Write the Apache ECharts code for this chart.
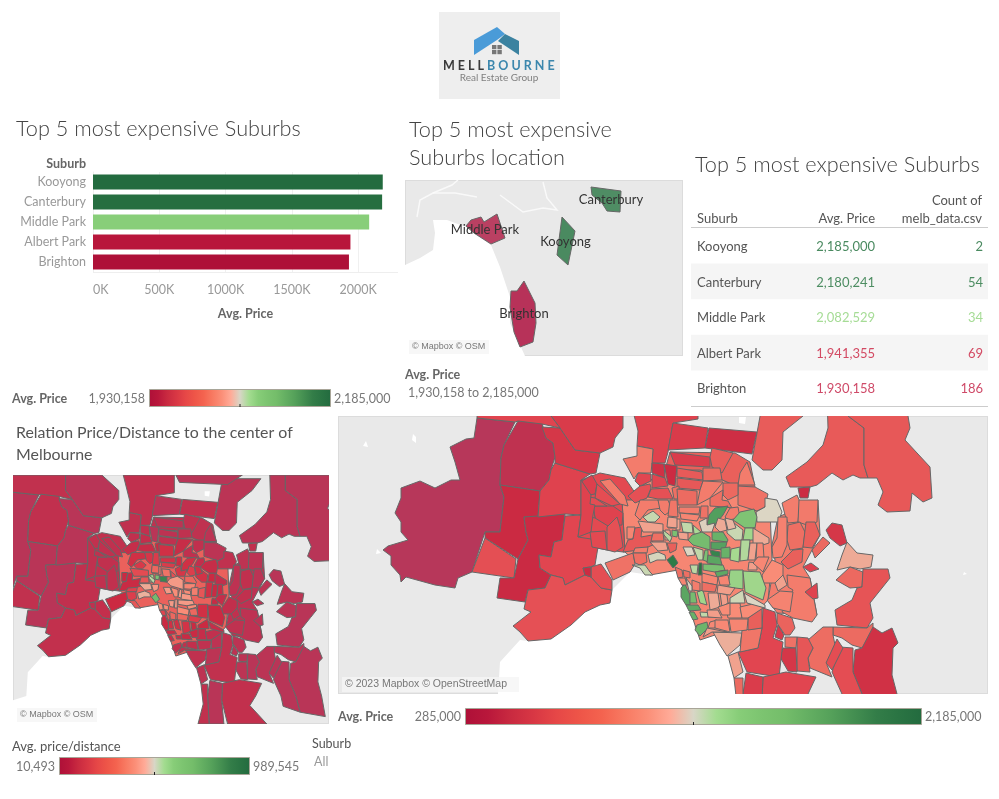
<!DOCTYPE html>
<html>

<head>
  <meta charset="utf-8">
  <title>Melbourne suburbs</title>
  <script src="https://cdn.jsdelivr.net/npm/echarts@6/dist/echarts.min.js"></script>
  <style>
    html, body { margin: 0; padding: 0; background: #fff; }
    .panel { position: absolute; }
    .map { background: #e9e9e9; outline: 1px solid #dcdcdc; outline-offset: -1px; }
  </style>
</head>

<body>
  <div id="page" class="panel" style="left:0;top:0;width:999px;height:799px"></div>
  <div id="mapTop" class="panel map" style="left:405px;top:180px;width:278px;height:176px"></div>
  <div id="mapLeft" class="panel map" style="left:13px;top:475px;width:316px;height:249px"></div>
  <div id="mapBig" class="panel map" style="left:338px;top:416px;width:650px;height:278px"></div>
  <script>
    const topSuburbs = ['Kooyong', 'Canterbury', 'Middle Park', 'Albert Park', 'Brighton'];
    const topPrices = [2185000, 2180241, 2082529, 1941355, 1930158];
    const topCounts = [2, 54, 34, 69, 186];
    const priceTicks = [0, 500000, 1000000, 1500000, 2000000];

    const pricePalette = ['#ae1038', '#b9173b', '#c92a40', '#d83744', '#e64747', '#ee5548', '#f4634f', '#f87a62', '#fb8f78', '#ffab98', '#d8d6c6',
      '#a3dc90', '#87cd78', '#7cc470', '#74bd6a', '#64af62', '#55a15a', '#448f51', '#337d48', '#2a7443', '#236b3f'];
    const mapPalette = ['#b5385c', '#cb2a42', '#e24650', '#ec6a60', '#f98d78', '#dcd6c4', '#a5d98f', '#7cc172', '#5aa562', '#3a8a50', '#25703f'];
    const tablePalette = ['#cf4a68', '#d94a5c', '#e0605f', '#e87a70', '#eea090', '#dddccc', '#a5dc95', '#88c285', '#74b078', '#5c9c6a', '#4a8a60'];

    // outlines of the top 5 map (map units), label points and the shown value
    const topMapNames = ['Canterbury', 'Kooyong', 'Middle Park', 'Brighton'];
    const topMapValues = [2180241, 2185000, 1941355, 1930158];
    const topMapOutlines = [
      '591,187 621,191 620,212 607,211 602,203 592,195',
      '562,217 575,231 568,265 557,255',
      '466,226 471,220 481,217 484,222 497,214 505,238 491,244 474,233',
      '511,291 517,291 524,281 535,303 536,323 533,342 520,347 514,332 510,307'
    ];
    const topMapLabelPoints = [[611, 200], [565.5, 242], [485, 230], [524, 314]];
    const topBayOutlines = ['433,220 447,220 466,227 473,233 491,245 500,267 510,297 510,323 525,356 405,356 405,265 420,258 433,250 435,233'];
    const topRivers = [
      '417,217 420,200 433,193 455,193 477,197',
      '500,195 523,212 543,208 557,210 547,198 543,182',
      '433,193 452,185 458,180'
    ];

    // suburb outlines (map units) - same order as avgPrice and pricePerDistance
    const suburbOutlines = [
      '622,500 665,470 700,470 745,490 770,510 772,560 768,600 745,625 700,640 690,610 678,570 650,575 625,552',
      '581,480 600,473 625,478 640,500 622,500 625,552 623,552 607,550 592,547 578,537',
      '778,517 818,500 820,535 803,567 810,578 817,615 777,613 768,600 775,560 772,545',
      '670,452 735,453 750,462 755,487 745,490 700,470 665,470',
      '477,418 515,422 504,445 501,458 500,485 504,497 500,532 485,532 472,572 458,578 455,588 435,585 406,577 401,582 400,575 391,565 391,556 383,550 388,546 408,540 401,532 401,522 395,513 401,498 401,488 420,481 435,488 451,480 460,480 455,462 450,447 466,439 474,438',
      '518,421 542,423 546,438 553,443 555,457 551,470 549,480 540,491 500,485 501,458 504,445',
      '500,485 540,491 538,517 524,517 526,532 528,540 518,559 485,538 485,532 500,532 504,497',
      '485,538 516,559 514,578 472,572',
      '524,517 565,514 562,540 554,542 551,557 539,555 540,568 551,575 545,588 528,590 525,602 497,598 500,578 514,578 518,559 528,540 526,532',
      '555,463 590,474 581,480 581,515 565,514 538,517 540,491 549,480 551,470',
      '542,427 560,428 575,450 600,453 596,473 590,474 555,463 555,457 553,443 546,438',
      '551,395 600,395 623,416 623,428 615,438 613,447 600,453 575,450 560,428 551,416',
      '478,395 551,395 551,416 560,428 542,424 518,421 515,422 477,418',
      '565,516 581,515 578,537 591,539 598,547 595,565 590,567 583,568 585,575 565,585 563,578 551,575 540,568 539,555 551,557 554,542 562,540',
      '551,575 563,578 565,585 585,575 591,577 601,588 612,590 610,603 600,605 585,612 571,625 551,639 528,641 520,632 513,626 531,612 524,609 528,590 545,588',
      '591,577 591,567 601,564 612,580 612,590 601,588',
      '583,568 591,567 591,577 585,575',
      '605,563 633,553 635,564 630,572 613,580',
      '629,395 698,395 698,419 673,423 668,452 665,463 652,463 653,449 637,446 638,431',
      '673,423 708,428 705,448 668,450',
      '709,428 757,432 752,454 705,448',
      '763,400 815,400 803,416 783,432 782,460 772,470 763,470 752,460 757,433',
      '827,395 848,395 848,416 864,428 864,465 868,478 860,478 853,475 843,480 832,473 817,485 810,487 790,487 786,477 807,462 823,445 828,428',
      '848,395 908,395 908,416 910,428 905,440 930,467 932,498 923,502 912,493 910,511 887,512 878,505 883,492 877,478 868,478 864,465 864,428 848,416',
      '798,488 810,487 808,498 800,498',
      '670,452 710,457 710,467 675,465',
      '712,448 733,453 722,473 712,467 710,457',
      '677,468 702,472 703,480 677,477',
      '703,468 720,468 722,480 703,481',
      '677,478 703,481 700,490 677,488',
      '703,481 723,482 710,498 697,505 700,490',
      '747,462 755,485 738,485 740,473',
      '738,486 755,487 768,494 765,507 757,511 738,505',
      '723,483 738,483 738,495 728,500 723,495',
      '710,498 723,490 722,500 728,501 732,508 725,507 710,506',
      '715,508 728,506 723,515 715,525 707,525 709,515',
      '730,508 738,507 740,518 728,520 725,517',
      '765,498 777,500 782,512 778,522 757,522 756,512 765,507',
      '740,512 754,509 757,517 755,528 745,528 733,520',
      '745,528 755,528 754,540 743,540',
      '727,530 734,523 743,530 742,540 735,540 727,533',
      '725,518 733,520 736,528 728,530',
      '715,527 718,518 725,520 727,530 720,532',
      '699,522 707,518 707,525 715,523 712,532 702,532',
      '782,503 797,495 800,502 798,522 788,523 785,515',
      '799,500 818,500 817,522 807,525 798,522',
      '788,525 800,522 805,532 803,548 790,550 787,540',
      '778,517 787,517 787,545 782,557 773,558 772,547 777,538',
      '806,522 815,522 820,535 812,548 803,547',
      '812,550 823,537 830,543 815,558',
      '826,530 832,523 842,525 847,543 840,546 830,538',
      '847,542 857,553 873,555 871,567 860,569 850,567 837,570 842,555',
      '781,562 793,550 803,549 802,562 788,569',
      '803,567 811,563 819,569 810,572',
      '762,575 772,560 783,565 783,575 775,583 763,583',
      '730,570 743,570 743,589 728,587',
      '743,571 760,572 766,588 763,600 745,592',
      '783,575 787,585 778,591 775,583',
      '787,575 810,578 817,615 812,622 793,618 782,612 793,590 788,587',
      '805,592 817,583 818,598 813,599',
      '767,600 780,591 793,592 790,612 773,608',
      '836,580 850,567 863,572 862,587 850,588',
      '863,569 888,569 890,578 882,588 870,603 873,618 867,628 837,625 835,610 852,600 857,588 862,587',
      '833,627 867,628 873,623 873,632 862,648 852,645 842,638 833,635',
      '873,627 882,633 892,628 898,643 893,648 892,675 897,694 902,722 868,716 862,694 853,672 855,650 862,648',
      '840,647 853,648 853,672 862,694 868,716 845,708 842,694 832,672',
      '808,640 823,627 833,627 833,635 835,645 827,665 832,677 810,668 808,658 813,648',
      '837,639 843,648 832,670 826,663',
      '797,637 808,638 813,648 808,658 810,672 797,671',
      '785,637 797,637 796,648 785,647',
      '783,648 796,648 797,672 788,671 780,657',
      '777,613 792,618 795,628 790,635 785,635 777,623',
      '775,637 778,625 784,635 782,640',
      '763,608 775,612 777,625 773,638 783,642 779,677 747,672 738,652 758,648 762,628',
      '763,677 786,672 816,677 808,694 800,707 823,732 770,732 762,700',
      '746,673 763,677 762,700 765,732 745,732 743,694',
      '734,678 743,678 743,694 745,732 730,732 737,705',
      '728,656 738,652 743,672 734,678',
      '713,632 742,633 740,645 727,656 720,645',
      '742,630 762,628 758,648 740,652',
      '748,618 762,608 762,628 748,630',
      '725,603 740,603 742,618 728,618',
      '740,607 757,603 763,608 748,618 742,618',
      '729,619 748,619 747,630 731,632',
      '681,588 685,584 690,595 690,605 686,605 681,597',
      '686,605 698,605 701,610 689,611',
      '689,612 694,612 698,619 693,620',
      '697,625 707,622 708,628 700,636 695,630',
      '700,612 714,613 713,617 701,617',
      '690,592 695,592 697,603 690,603',
      '697,592 703,590 707,605 700,603',
      '708,593 718,593 720,607 710,610',
      '720,593 727,595 728,603 722,607',
      '730,598 743,590 745,603 730,603',
      '744,593 765,605 765,608 747,603',
      '718,607 730,603 730,615 722,615',
      '707,610 718,610 722,618 708,617',
      '710,622 717,620 715,628 708,628',
      '715,620 728,620 730,632 715,628',
      '707,628 727,632 712,632 703,637',
      '702,573 718,577 717,585 702,582',
      '702,582 717,585 715,592 702,591',
      '692,580 700,583 700,591 692,590',
      '686,578 692,586 692,591 689,591',
      '675,567 682,570 683,577 678,578',
      '683,570 690,572 690,578 684,577',
      '678,578 685,578 687,585 682,585',
      '699,563 702,563 702,575 698,575',
      '690,565 698,565 697,574 692,573',
      '703,564 723,565 725,570 715,572 703,570',
      '715,572 728,570 728,574 717,577',
      '718,577 728,575 730,585 720,585',
      '718,585 735,588 730,595 717,593',
      '679,507 700,507 699,514 679,513',
      '680,513 700,515 697,521 681,519',
      '701,506 708,506 708,518 700,518',
      '668,519 675,519 675,528 668,528',
      '676,519 680,519 680,530 676,530',
      '681,522 692,523 693,533 683,532',
      '665,530 670,530 671,540 665,540',
      '693,525 701,532 700,535 694,534',
      '672,530 678,531 677,537 672,536',
      '678,532 688,533 688,540 679,539',
      '692,535 702,532 710,537 710,550 693,545 688,540',
      '712,532 723,532 728,540 727,542 712,540',
      '711,542 727,542 725,550 711,549',
      '683,547 692,547 695,555 687,556',
      '693,547 703,550 703,560 698,560',
      '705,550 708,550 708,562 703,560',
      '710,550 720,552 720,557 712,557',
      '721,548 730,547 730,558 721,558',
      '708,555 720,557 722,565 707,563',
      '731,549 740,547 739,562 730,560',
      '741,540 750,540 748,560 740,561',
      '753,528 769,538 769,543 753,548',
      '750,543 757,543 755,560 748,560',
      '757,543 763,543 764,558 756,560',
      '749,562 757,563 757,570 748,570',
      '758,557 769,557 763,572 753,563',
      '623,459 637,456 637,446 653,449 652,463 651,473 638,473 634,479 627,466',
      '652,463 664,464 665,478 652,473',
      '664,464 677,466 675,486 668,484',
      '638,473 651,474 651,481 640,486 635,481',
      '652,474 665,478 668,486 652,488',
      '640,486 650,484 651,488 647,498 635,503 628,496',
      '651,489 668,488 673,499 658,499 648,497',
      '672,488 679,486 679,499 674,499',
      '600,481 610,479 625,496 628,506 620,504',
      '582,481 592,475 597,484 595,494 583,496',
      '597,484 620,504 612,506 595,498',
      '593,506 613,506 623,513 622,525 608,526 595,518',
      '583,496 595,498 607,506 593,506 595,518 585,516',
      '581,480 591,495 590,504 595,505 593,515 591,532 578,537 581,515',
      '607,527 617,517 620,527 623,547 615,552 607,550',
      '590,532 605,531 607,550 592,547',
      '627,527 635,527 633,539 627,539',
      '635,528 642,527 641,537 652,535 653,545 640,550 623,552 628,540 633,539',
      '635,548 648,547 647,553 633,553',
      '633,553 646,553 647,562 640,565 635,563',
      '632,565 645,565 650,572 653,575 645,575 640,568',
      '648,555 658,552 665,555 666,560 657,560 650,563',
      '667,560 673,555 678,563 673,568',
      '667,543 677,543 676,550 670,553',
      '643,517 653,511 660,517 655,522 648,522',
      '638,521 663,524 663,532 643,532',
      '640,500 658,500 662,508 648,510 640,520 635,515',
      '658,500 668,500 672,510 665,515 660,510',
      '668,517 677,518 677,528 667,527',
      '653,533 663,533 664,541 651,541',
      '650,542 666,542 668,550 658,551',
      '663,530 672,537 670,542 664,535',
      '677,489 697,491 697,505 678,505',
      '670,500 677,500 678,517 668,516',
      '700,395 790,395 770,408 705,405'
    ];
    const avgPrice = [
      1007000, 680000, 950000, 800000,
      300000, 370000, 475000, 710000, 470000, 640000, 560000, 590000, 650000,
      660000, 720000, 700000, 480000, 900000, 640000, 590000, 500000, 780000, 770000,
      760000, 480000, 600000, 790000, 770000, 860000, 760000, 950000, 950000, 900000,
      850000, 880000, 1850000, 950000, 1235000, 1600000, 1450000, 1300000, 1150000, 1120000,
      1220000, 960000, 940000, 880000, 980000, 800000, 850000, 560000, 1120000, 800000,
      620000, 1040000, 1480000, 1450000, 1100000, 950000, 640000, 990000, 850000, 740000,
      860000, 520000, 700000, 870000, 700000, 750000, 900000, 560000, 820000, 580000,
      660000, 660000, 600000, 860000, 1100000, 1130000, 920000, 800000, 1040000, 1040000,
      1000000, 1800000, 1780000, 1720000, 1700000, 1330000, 1650000, 1450000, 1120000, 1090000,
      1280000, 1235000, 1040000, 1090000, 1020000, 1020000, 1090000, 1000000, 880000, 960000,
      1235000, 880000, 880000, 1000000, 2150000, 1350000, 1620000, 1780000, 1000000, 1090000,
      960000, 1000000, 900000, 1010000, 1100000, 1330000, 1100000, 1400000, 1620000, 1100000,
      1650000, 1720000, 1830000, 1235000, 1330000, 1620000, 2030000, 1720000, 1800000, 1420000,
      1380000, 1120000, 1100000, 1010000, 1090000, 1010000, 950000, 520000, 480000, 660000,
      660000, 720000, 720000, 880000, 950000, 620000, 700000, 640000, 700000, 640000,
      720000, 680000, 1000000, 760000, 950000, 880000, 1300000, 1260000, 2100000, 800000,
      1310000, 1100000, 950000, 950000, 1100000, 880000, 1100000, 1360000, 860000, 920000,
      550000
    ];
    const pricePerDistance = [
      280000, 62000, 50000, 55000,
      30000, 65000, 28000, 62000, 28000, 30000, 30000, 30000, 62000,
      65000, 68000, 72000, 60000, 110000, 65000, 32000, 65000, 35000, 32000,
      30000, 65000, 45000, 60000, 50000, 60000, 60000, 90000, 40000, 40000,
      65000, 65000, 130000, 70000, 60000, 85000, 110000, 140000, 130000, 180000,
      150000, 48000, 45000, 65000, 50000, 40000, 40000, 28000, 40000, 65000,
      40000, 70000, 130000, 110000, 60000, 50000, 35000, 55000, 35000, 30000,
      35000, 28000, 28000, 35000, 30000, 30000, 40000, 40000, 45000, 45000,
      62000, 68000, 30000, 62000, 45000, 60000, 40000, 45000, 80000, 65000,
      55000, 110000, 90000, 80000, 65000, 90000, 130000, 130000, 140000, 110000,
      110000, 80000, 100000, 100000, 70000, 70000, 62000, 400000, 300000, 300000,
      240000, 400000, 400000, 200000, 420000, 420000, 420000, 400000, 300000, 180000,
      140000, 170000, 120000, 250000, 330000, 330000, 600000, 230000, 700000, 900000,
      420000, 300000, 380000, 420000, 400000, 420000, 400000, 360000, 420000, 250000,
      130000, 70000, 100000, 90000, 100000, 80000, 60000, 65000, 30000, 65000,
      70000, 80000, 90000, 110000, 60000, 62000, 60000, 65000, 60000, 60000,
      65000, 60000, 110000, 100000, 190000, 180000, 250000, 450000, 720000, 420000,
      160000, 220000, 130000, 150000, 300000, 250000, 440000, 560000, 130000, 170000,
      30000
    ];
    const bayOutlines = [
      '500,662 520,640 528,641 551,639 571,625 585,612 600,605 610,603 612,590 630,572 650,575 665,565 680,568 681,590 690,605 695,630 713,632 728,656 734,680 740,700 736,732 480,732 480,700 498,694'
    ];
    const lakeOutlines = ['366,441 368,447 363,446', '413,434 416,437 416,443 412,440', '377,549 381,553 376,554', '739,417 746,417 745,424 739,423', '964,572 967,574 963,575'];

    const FONT = 'Lato';
    const identity = { project: p => p, unproject: p => p };

    function parseOutline(text) {
      return text.split(' ').map(p => p.split(',').map(Number));
    }

    function toFeature(name, outline) {
      let ring = parseOutline(outline);
      ring.push(ring[0]);
      return { type: 'Feature', properties: { name: name }, geometry: { type: 'Polygon', coordinates: [ring] } };
    }

    function registerOutlines(mapName, outlines) {
      echarts.registerMap(mapName, {
        type: 'FeatureCollection',
        features: outlines.map((o, i) => toFeature('water' + i, o))
      });
    }

    registerOutlines('water', bayOutlines.concat(lakeOutlines));
    registerOutlines('topWater', topBayOutlines);

    function numberText(v) {
      return v.toLocaleString('en-US');
    }

    function attribution(text, w, h, size) {
      return {
        type: 'group', left: 4, bottom: 2, silent: true,
        children: [
          { type: 'rect', z: 100, shape: { x: 0, y: 0, width: w, height: h }, style: { fill: 'rgba(245,245,245,0.8)' } },
          { type: 'text', z: 101, x: 3, y: h / 2, style: { text: text, fill: '#777', font: size + 'px "Liberation Sans"', verticalAlign: 'middle' } }
        ]
      };
    }

    function mapOption(opt) {
      let box = { left: 0, top: 0, width: opt.w, height: opt.h };
      let shapes = opt.outlines.map(parseOutline);
      let series = [{
        type: 'custom',
        coordinateSystem: 'geo',
        silent: true,
        z: 5,
        renderItem: function (params, api) {
          let i = api.value(0);
          let children = [{
            type: 'polygon',
            shape: { points: shapes[i].map(p => api.coord(p)) },
            style: { fill: api.visual('color'), stroke: '#666', lineWidth: 1, lineJoin: 'miter' }
          }];
          if (opt.labels) {
            let at = api.coord(opt.labelPoints[i]);
            children.push({
              type: 'text', x: at[0], y: at[1], z2: 10,
              style: { text: opt.labels[i], fill: '#333', font: '13px ' + FONT, align: 'center', verticalAlign: 'middle' }
            });
          }
          return { type: 'group', children: children };
        },
        data: opt.values.map((v, i) => [i, v])
      }];
      if (opt.rivers) {
        series.push({
          type: 'lines', coordinateSystem: 'geo', polyline: true, silent: true, z: 2,
          lineStyle: { color: '#fbfbfb', width: 1.5, opacity: 0.9 },
          data: opt.rivers.map(r => ({ coords: parseOutline(r) }))
        });
      }
      return {
        animation: false,
        geo: Object.assign({
          map: opt.water,
          projection: identity,
          boundingCoords: opt.bounds,
          silent: true,
          z: 1,
          itemStyle: { areaColor: '#fff', borderWidth: 0 },
          emphasis: { disabled: true }
        }, box),
        visualMap: { show: false, min: opt.min, max: opt.max, seriesIndex: 0, dimension: 1, inRange: { color: opt.palette } },
        series: series,
        graphic: [attribution(opt.credit, opt.creditW, opt.creditH, opt.creditSize)]
      };
    }

    echarts.init(document.getElementById('mapTop')).setOption(mapOption({
      w: 278, h: 176, water: 'topWater', bounds: [[405, 180], [683, 356]],
      min: 1930158, max: 2185000, palette: ['#b73259', '#dcd6c4', '#4a8a60'],
      outlines: topMapOutlines, values: topMapValues,
      labels: topMapNames, labelPoints: topMapLabelPoints,
      rivers: topRivers,
      credit: '© Mapbox © OSM', creditW: 80, creditH: 14, creditSize: 9
    }));

    echarts.init(document.getElementById('mapLeft')).setOption(mapOption({
      w: 316, h: 249, water: 'water', bounds: [[480, 395], [907, 732]],
      min: 10493, max: 989545, palette: mapPalette,
      outlines: suburbOutlines, values: pricePerDistance,
      credit: '© Mapbox © OSM', creditW: 80, creditH: 14, creditSize: 9
    }));

    echarts.init(document.getElementById('mapBig')).setOption(mapOption({
      w: 650, h: 278, water: 'water', bounds: [[338, 416], [988, 694]],
      min: 285000, max: 2185000, palette: mapPalette,
      outlines: suburbOutlines, values: avgPrice,
      credit: '© 2023 Mapbox © OpenStreetMap', creditW: 177, creditH: 15, creditSize: 10.5
    }));

    function label(x, y, text, color, size, weight, align) {
      return {
        type: 'text', x: x, y: y + 1, silent: true,
        style: { text: text, fill: color, font: (weight || 'normal') + ' ' + size + 'px ' + FONT, align: align || 'left', verticalAlign: 'middle' }
      };
    }

    function colorLegend(x, y, w, h, minText, maxText) {
      let stops = pricePalette.map((c, i) => ({ offset: i / (pricePalette.length - 1), color: c }));
      return [
        { type: 'rect', silent: true, shape: { x: x + 0.5, y: y + 0.5, width: w, height: h }, style: { fill: new echarts.graphic.LinearGradient(0, 0, 1, 0, stops), stroke: '#a8a598', lineWidth: 1 } },
        { type: 'rect', silent: true, shape: { x: x + w / 2, y: y + h - 2, width: 1, height: 3 }, style: { fill: '#222' } },
        label(x - 4, y + h / 2, minText, '#777', 12.5, 'normal', 'right'),
        label(x + w + 4, y + h / 2, maxText, '#777', 12.5)
      ];
    }

    function logo() {
      return [
        { type: 'rect', silent: true, shape: { x: 439, y: 12, width: 121, height: 87 }, style: { fill: '#eeeeee' } },
        { type: 'polygon', silent: true, shape: { points: [[474, 40], [497, 27], [505, 34], [497, 40], [474, 55]] }, style: { fill: '#4a9bd8' } },
        { type: 'polygon', silent: true, shape: { points: [[505, 34], [519, 41], [519, 55], [498, 41]] }, style: { fill: '#3b82a0' } },
        { type: 'rect', silent: true, shape: { x: 492, y: 45, width: 4.4, height: 4.2 }, style: { fill: '#777' } },
        { type: 'rect', silent: true, shape: { x: 497.4, y: 45, width: 4.4, height: 4.2 }, style: { fill: '#777' } },
        { type: 'rect', silent: true, shape: { x: 492, y: 50, width: 4.4, height: 4.2 }, style: { fill: '#777' } },
        { type: 'rect', silent: true, shape: { x: 497.4, y: 50, width: 4.4, height: 4.2 }, style: { fill: '#777' } },
        label(443, 65, 'M E L L', '#3a3a3a', 12.5, 'bold'),
        label(487, 65, 'B O U R N E', '#3c87ad', 12.5, 'bold'),
        label(499, 77, 'Real Estate Group', '#808080', 10, 'normal', 'center')
      ];
    }

    function tableRow(params, api) {
      let i = api.value(0);
      let rect = params.coordSys;
      let y = api.coord([0, i])[1];
      let bandH = api.size([0, 1])[1];
      let color = api.visual('color');
      let cell = (x, text, fill, align) => ({
        type: 'text', x: x, y: y + 1, silent: true,
        style: { text: text, fill: fill, font: '13px ' + FONT, align: align, verticalAlign: 'middle' }
      });
      let children = [];
      if (i % 2 == 1)
        children.push({ type: 'rect', shape: { x: rect.x, y: y - bandH / 2, width: rect.width, height: bandH }, style: { fill: '#f5f5f5' } });
      children.push(cell(rect.x + 6, topSuburbs[i], '#555', 'left'));
      children.push(cell(rect.x + 184, numberText(api.value(1)), color, 'right'));
      children.push(cell(rect.x + 292, numberText(api.value(2)), color, 'right'));
      return { type: 'group', children: children };
    }

    const titleStyle = { fontFamily: FONT, fontSize: 21.7, fontWeight: 300, color: '#444' };
    const subTitleStyle = { fontFamily: FONT, fontSize: 15.9, fontWeight: 400, color: '#555' };

    let page = echarts.init(document.getElementById('page'));
    page.setOption({
      animation: false,
      title: [
        { text: 'Top 5 most expensive Suburbs', left: 16, top: 118, padding: 0, textStyle: titleStyle },
        { text: 'Top 5 most expensive\nSuburbs location', left: 409, top: 116, padding: 0, textStyle: Object.assign({ lineHeight: 28 }, titleStyle) },
        { text: 'Top 5 most expensive Suburbs', left: 695, top: 154, padding: 0, textStyle: titleStyle },
        { text: 'Relation Price/Distance to the center of\nMelbourne', left: 16, top: 422, padding: 0, textStyle: Object.assign({ lineHeight: 22 }, subTitleStyle) }
      ],
      grid: [
        { left: 93, top: 172, width: 305, height: 100 },
        { left: 691, top: 228, width: 297, height: 178 }
      ],
      xAxis: [
        {
          type: 'value', gridIndex: 0, min: 0, max: 2300000, interval: priceTicks[1],
          name: 'Avg. Price', nameLocation: 'middle', nameGap: 35,
          nameTextStyle: { fontFamily: FONT, fontSize: 12.5, fontWeight: 'bold', color: '#666' },
          axisLine: { show: false }, axisTick: { show: false },
          axisLabel: {
            fontFamily: FONT, fontSize: 12.5, color: '#999', margin: 11, alignMinLabel: 'left', showMaxLabel: false,
            formatter: v => (v / 1000) + 'K'
          },
          splitLine: { showMaxLine: false, lineStyle: { color: '#f0f0f0' } }
        },
        { type: 'value', gridIndex: 1, show: false, min: 0, max: 1 }
      ],
      yAxis: [
        {
          type: 'category', gridIndex: 0, inverse: true, data: topSuburbs,
          name: 'Suburb', nameLocation: 'start', nameGap: 2,
          nameTextStyle: { fontFamily: FONT, fontSize: 12.5, fontWeight: 'bold', color: '#666', align: 'right', padding: [0, 7, 0, 0] },
          axisLine: { lineStyle: { color: '#eee' } }, axisTick: { show: false },
          axisLabel: { fontFamily: FONT, fontSize: 12.5, color: '#999', margin: 7, padding: [2, 0, 0, 0] }
        },
        { type: 'category', gridIndex: 1, inverse: true, show: false, data: topSuburbs }
      ],
      visualMap: [
        { show: false, seriesIndex: 0, dimension: 0, min: 1930158, max: 2185000, inRange: { color: pricePalette } },
        { show: false, seriesIndex: 1, dimension: 1, min: 1930158, max: 2185000, inRange: { color: tablePalette } }
      ],
      series: [
        {
          type: 'bar', xAxisIndex: 0, yAxisIndex: 0, barWidth: 15, silent: true,
          encode: { x: 0, y: 1 },
          data: topSuburbs.map((s, i) => [topPrices[i], s])
        },
        {
          type: 'custom', xAxisIndex: 1, yAxisIndex: 1, silent: true,
          encode: { y: 0 },
          renderItem: tableRow,
          data: topSuburbs.map((s, i) => [i, topPrices[i], topCounts[i]])
        }
      ],
      graphic: [].concat(
        logo(),
        [
          { type: 'line', silent: true, shape: { x1: 93, y1: 272.5, x2: 398, y2: 272.5 }, style: { stroke: '#eee' } },
          label(12, 398, 'Avg. Price', '#666', 12.5, 'bold'),
          label(405, 374, 'Avg. Price', '#666', 12.5, 'bold'),
          label(408, 392, '1,930,158 to 2,185,000', '#777', 12.5),
          label(697, 218, 'Suburb', '#555', 13),
          label(875, 218, 'Avg. Price', '#555', 13, 'normal', 'right'),
          label(982, 200, 'Count of', '#555', 13, 'normal', 'right'),
          label(982, 218, 'melb_data.csv', '#555', 13, 'normal', 'right'),
          { type: 'line', silent: true, z: 10, shape: { x1: 691, y1: 227.5, x2: 988, y2: 227.5 }, style: { stroke: '#ccc' } },
          { type: 'line', silent: true, z: 10, shape: { x1: 691, y1: 406.5, x2: 988, y2: 406.5 }, style: { stroke: '#ccc' } },
          label(338, 716, 'Avg. Price', '#666', 12.5, 'bold'),
          label(12, 746, 'Avg. price/distance', '#555', 13),
          label(312, 743, 'Suburb', '#555', 12.5),
          label(314, 761, 'All', '#999', 12.5)
        ],
        colorLegend(149, 389, 181, 17, '1,930,158', '2,185,000'),
        colorLegend(465, 708, 456, 16, '285,000', '2,185,000'),
        colorLegend(59, 757, 190, 17, '10,493', '989,545')
      )
    });
  </script>

</body>

</html>
